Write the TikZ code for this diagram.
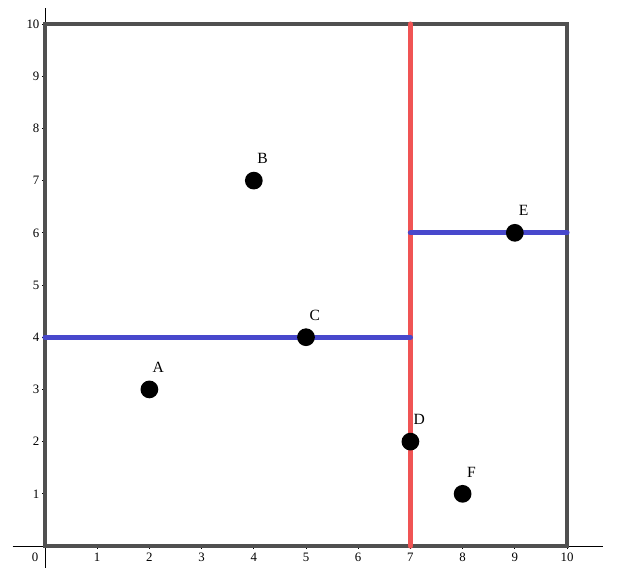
\documentclass[tikz,border=0pt]{standalone}
\usepackage{fontspec}
\setmainfont{Liberation Serif}
\definecolor{splitblue}{RGB}{72,72,204}
\definecolor{splitred}{RGB}{240,84,84}
\definecolor{framegray}{RGB}{80,80,80}
\begin{document}
\begin{tikzpicture}[x=1cm,y=1cm,
  frame/.style={draw=framegray,line width=2.1pt},
  splitv/.style={draw=splitred,line width=2.8pt,line cap=round},
  splith/.style={draw=splitblue,line width=2.8pt,line cap=round},
  pt/.style={circle,fill=black,inner sep=0pt,minimum size=0.34cm},
  ptlab/.style={font=\fontsize{8.5}{10}\selectfont,inner sep=0pt},
  ticklab/.style={font=\fontsize{7}{8}\selectfont,inner sep=0pt}]
\useasboundingbox (-0.862,-0.632) rectangle (11.379,10.46);
% axes
\draw[line width=0.5pt] (-0.62,0) -- (10.68,0);
\draw[line width=0.5pt] (0,-0.42) -- (0,10.3);
\foreach \i in {1,...,10} {
  \draw[line width=0.4pt] (\i,0) -- (\i,-0.06);
  \node[ticklab] at (\i,-0.22) {\i};
  \draw[line width=0.4pt] (0,\i) -- (-0.06,\i);
  \node[ticklab,anchor=east] at (-0.1,\i) {\i};
}
\node[ticklab] at (-0.19,-0.22) {0};
% frame
\coordinate (o) at (0,0);
\coordinate (tr) at (10,10);
\draw[frame] (o) rectangle (tr);
% splitting lines
\coordinate (r0) at (7,0);
\coordinate (r1) at (7,10);
\coordinate (b0) at (0,4);
\coordinate (b1) at (7,4);
\coordinate (e0) at (7,6);
\coordinate (e1) at (10,6);
\draw[splitv] (r0) -- (r1);
\draw[splith] (b0) -- (b1);
\draw[splith] (e0) -- (e1);
% points
\node[pt] (A) at (2,3) {};
\node[pt] (B) at (4,7) {};
\node[pt] (C) at (5,4) {};
\node[pt] (D) at (7,2) {};
\node[pt] (E) at (9,6) {};
\node[pt] (F) at (8,1) {};
\foreach \p in {A,B,C,D,E,F} {
  \node[ptlab] (\p lab) at ([shift={(0.17,0.42)}]\p) {\p};
}
\end{tikzpicture}
\end{document}
